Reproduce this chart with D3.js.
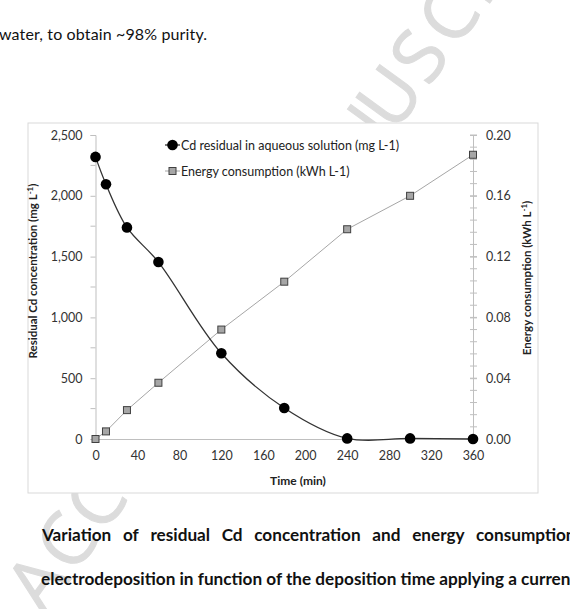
<!DOCTYPE html>
<html>
<head>
<meta charset="utf-8">
<script src="https://cdn.jsdelivr.net/npm/d3@7"></script>
<style>
    body { margin: 0; background: #fff; }
    svg { display: block; }
    text { font-family: Lato, "Open Sans", sans-serif; }
</style>
</head>
<body>
<div id="chart"></div>
<script>
// data
const times = [0, 10, 30, 60, 120, 180, 240, 300, 360];
const cdResidual = [2320, 2095, 1740, 1455, 705, 255, 5, 5, 0];      // mg L-1
const energyUse = [0, 0.005, 0.019, 0.037, 0.072, 0.1035, 0.138, 0.160, 0.187]; // kWh L-1

const timeTicks = [0, 40, 80, 120, 160, 200, 240, 280, 320, 360];
const cdTicks = [0, 500, 1000, 1500, 2000, 2500];
const energyTicks = [0, 0.04, 0.08, 0.12, 0.16, 0.20];

const seriesNames = ["Cd residual in aqueous solution (mg L-1)", "Energy consumption (kWh L-1)"];
const topText = "water, to obtain ~98% purity.";
const captionLine1 = ["Variation", "of", "residual", "Cd", "concentration", "and", "energy", "consumption"];
const captionLine2 = "electrodeposition in function of the deposition time applying a current";
const watermark = "ACCEPTED MANUSCRIPT";

const W = 570, H = 609;
const plot = {left: 95.5, right: 473, top: 135, bottom: 439};

const svg = d3.select("#chart").append("svg")
    .attr("width", W)
    .attr("height", H);

// watermark behind everything, one letter at a time along the diagonal
let wm = svg.append("g")
    .attr("transform", "translate(37, 582) rotate(-54)");
wm.selectAll("text")
    .data(watermark.split(""))
    .join("text")
    .text(d => d)
    .attr("x", (d, i) => i * 50)
    .attr("y", 26)
    .attr("text-anchor", "middle")
    .style("font-family", "'Open Sans', sans-serif")
    .style("font-size", "74px")
    .attr("fill", "#dcdcdc")
    .attr("stroke", "#dcdcdc")
    .attr("stroke-width", 1);

// page text
svg.append("text")
    .text(topText)
    .attr("x", -1)
    .attr("y", 40)
    .attr("textLength", 208)
    .style("font-size", "16px")
    .attr("fill", "#111");

// caption, second line first so the first one can use its size
let cap2 = svg.append("text")
    .text(captionLine2)
    .attr("x", 41)
    .attr("y", 585)
    .style("font-size", "16px")
    .style("font-weight", "bold")
    .attr("fill", "#111");
let fullLen = cap2.node().getComputedTextLength();
let capSize = 16 * (577 - 41) / fullLen;
cap2.style("font-size", capSize + "px");

let cap1 = svg.append("text")
    .attr("y", 541)
    .style("font-size", capSize + "px")
    .style("font-weight", "bold")
    .attr("fill", "#111");
let words = cap1.selectAll("tspan")
    .data(captionLine1)
    .join("tspan")
    .text(d => d);
let wordW = [];
words.each(function () { wordW.push(this.getComputedTextLength()); });
let lastStart = 476, firstStart = 42;
let used = d3.sum(wordW.slice(0, -1));
let gap = (lastStart - firstStart - used) / (captionLine1.length - 1);
let cx = firstStart;
words.attr("x", (d, i) => {
    let x0 = cx;
    cx += wordW[i] + gap;
    return x0;
});

// chart frame
svg.append("rect")
    .attr("x", 28)
    .attr("y", 123)
    .attr("width", 510)
    .attr("height", 370)
    .attr("fill", "#fff")
    .attr("stroke", "#d9d9d9")
    .attr("stroke-width", 1);

// scales
let x = d3.scaleLinear().domain([0, 360]).range([plot.left, plot.right]);
let yCd = d3.scaleLinear().domain([0, 2500]).range([plot.bottom, plot.top]);
let yEn = d3.scaleLinear().domain([0, 0.2]).range([plot.bottom, plot.top]);

const axisColor = "#bfbfbf";
const labelColor = "#333";

// bottom axis
let xAxis = d3.axisBottom(x).tickValues(timeTicks).tickSize(0).tickPadding(12);
let gx = svg.append("g")
    .attr("transform", `translate(0, ${plot.bottom})`)
    .call(xAxis);
gx.select(".domain").attr("stroke", axisColor);
gx.selectAll("text").style("font-size", "12.5px").attr("fill", labelColor);

// left axis
let yAxisL = d3.axisLeft(yCd).tickValues(cdTicks).tickSize(5).tickPadding(8).tickFormat(d3.format(","));
let gl = svg.append("g")
    .attr("transform", `translate(${plot.left}, 0)`)
    .call(yAxisL);
gl.select(".domain").attr("stroke", axisColor);
gl.selectAll(".tick line").attr("stroke", axisColor);
gl.selectAll("text").style("font-size", "12.5px").attr("fill", labelColor);
gl.append("g").selectAll("line")
    .data(d3.range(250, 2500, 500))
    .join("line")
    .attr("x1", -5).attr("x2", 0)
    .attr("y1", d => yCd(d)).attr("y2", d => yCd(d))
    .attr("stroke", axisColor);

// right axis
let yAxisR = d3.axisRight(yEn).tickValues(energyTicks).tickSize(4).tickPadding(9).tickFormat(d3.format(".2f"));
let gr = svg.append("g")
    .attr("transform", `translate(${plot.right}, 0)`)
    .call(yAxisR);
gr.select(".domain").attr("stroke", axisColor);
gr.selectAll(".tick line").attr("stroke", axisColor).attr("x1", -3);
gr.selectAll("text").style("font-size", "12.5px").attr("fill", labelColor);
gr.append("g").selectAll("line")
    .data(d3.range(0, 0.2001, 0.008))
    .join("line")
    .attr("x1", -3).attr("x2", 4)
    .attr("y1", d => yEn(d)).attr("y2", d => yEn(d))
    .attr("stroke", axisColor);

// axis titles
svg.append("text")
    .attr("transform", "translate(37, 271) rotate(-90)")
    .attr("text-anchor", "middle")
    .style("font-size", "11.5px")
    .style("font-weight", "bold")
    .attr("fill", "#222")
    .html('Residual Cd concentration (mg L<tspan dy="-4" style="font-size:8px">-1</tspan><tspan dy="4">)</tspan>');

svg.append("text")
    .attr("transform", "translate(531, 278) rotate(-90)")
    .attr("text-anchor", "middle")
    .style("font-size", "11.5px")
    .style("font-weight", "bold")
    .attr("fill", "#222")
    .html('Energy consumption (kWh L<tspan dy="-4" style="font-size:8px">-1</tspan><tspan dy="4">)</tspan>');

svg.append("text")
    .text("Time (min)")
    .attr("x", 298)
    .attr("y", 485)
    .attr("text-anchor", "middle")
    .style("font-size", "12px")
    .style("font-weight", "bold")
    .attr("fill", "#222");

// series data
let cdData = times.map((t, i) => ({t: t, v: cdResidual[i]}));
let enData = times.map((t, i) => ({t: t, v: energyUse[i]}));

// energy: straight thin grey line with squares
svg.append("path")
    .datum(enData)
    .attr("fill", "none")
    .attr("stroke", "#a6a6a6")
    .attr("stroke-width", 1)
    .attr("d", d3.line().x(d => x(d.t)).y(d => yEn(d.v)));

svg.selectAll(".sq")
    .data(enData)
    .join("rect")
    .attr("class", "sq")
    .attr("x", d => x(d.t) - 3.5)
    .attr("y", d => yEn(d.v) - 3.5)
    .attr("width", 7)
    .attr("height", 7)
    .attr("fill", "#a6a6a6")
    .attr("stroke", "#404040")
    .attr("stroke-width", 1);

// Cd: smoothed dark line with black dots
svg.append("path")
    .datum(cdData)
    .attr("fill", "none")
    .attr("stroke", "#333")
    .attr("stroke-width", 1.3)
    .attr("d", d3.line().curve(d3.curveCatmullRom.alpha(0.5)).x(d => x(d.t)).y(d => yCd(d.v)));

svg.selectAll(".dot")
    .data(cdData)
    .join("circle")
    .attr("class", "dot")
    .attr("cx", d => x(d.t))
    .attr("cy", d => yCd(d.v))
    .attr("r", 5.3)
    .attr("fill", "#000");

// legend
let lg = svg.append("g").attr("transform", "translate(165, 145)");
lg.append("line").attr("x1", 0).attr("x2", 15).attr("y1", 0).attr("y2", 0).attr("stroke", "#333").attr("stroke-width", 1.3);
lg.append("circle").attr("cx", 7.5).attr("cy", 0).attr("r", 5.3).attr("fill", "#000");
lg.append("text").text(seriesNames[0]).attr("x", 16).attr("y", 4.5).style("font-size", "12.5px").attr("fill", "#222");

lg.append("line").attr("x1", 0).attr("x2", 15).attr("y1", 26).attr("y2", 26).attr("stroke", "#a6a6a6");
lg.append("rect").attr("x", 4).attr("y", 22.5).attr("width", 7).attr("height", 7).attr("fill", "#a6a6a6").attr("stroke", "#404040");
lg.append("text").text(seriesNames[1]).attr("x", 16).attr("y", 30.5).style("font-size", "12.5px").attr("fill", "#222");
</script>
</body>
</html>
